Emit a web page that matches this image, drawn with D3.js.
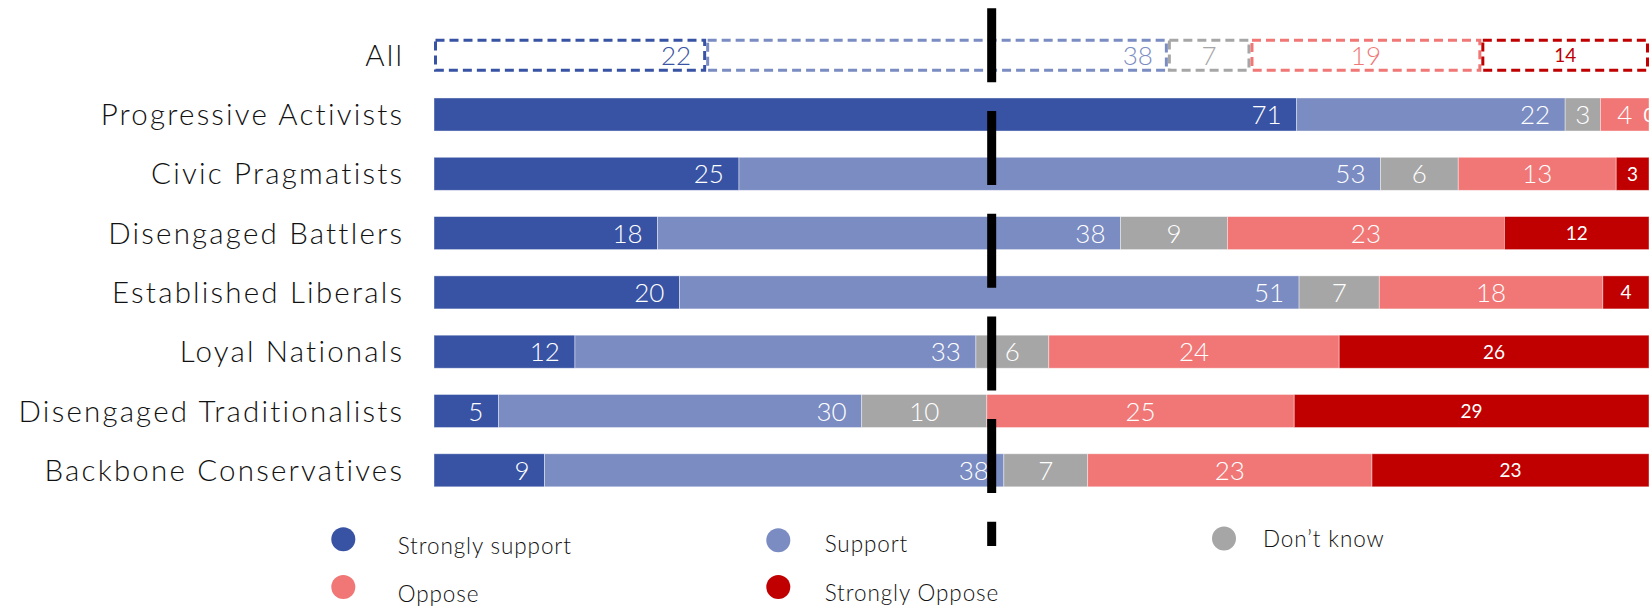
<!DOCTYPE html>
<html>
<head>
<meta charset="utf-8">
<script src="https://cdn.jsdelivr.net/npm/d3@7"></script>
<style>
  html, body { margin: 0; padding: 0; background: #fff; }
  svg { display: block; font-family: "Lato", "Open Sans", sans-serif; font-weight: 300; }
</style>
</head>
<body>
<svg id="chart" width="1649" height="607"></svg>
<script>
// ---- data ----
const categories = ["All", "Progressive Activists", "Civic Pragmatists", "Disengaged Battlers",
  "Established Liberals", "Loyal Nationals", "Disengaged Traditionalists", "Backbone Conservatives"];
const seriesNames = ["Strongly support", "Support", "Don\u2019t know", "Oppose", "Strongly Oppose"];
const stronglySupport = [22.4, 71.0, 25.1, 18.4, 20.2, 11.6, 5.3, 9.1];
const support         = [38.0, 22.1, 52.8, 38.1, 51.0, 33.0, 29.9, 37.8];
const dontKnow        = [6.8, 2.9, 6.4, 8.8, 6.6, 6.0, 10.3, 6.9];
const oppose          = [19.0, 4.0, 13.0, 22.8, 18.4, 23.9, 25.3, 23.4];
const stronglyOppose  = [13.8, 0.0, 2.7, 11.9, 3.8, 25.5, 29.2, 22.8];
const seriesColors = ["#3853a4", "#7a8cc2", "#a6a6a6", "#f07776", "#c00000"];
const referenceValue = 45.9;

// ---- build table ----
const seriesValues = [stronglySupport, support, dontKnow, oppose, stronglyOppose];
const keys = ["ss", "s", "dk", "o", "so"];
const table = categories.map((c, i) => {
  const row = { category: c };
  keys.forEach((k, j) => row[k] = seriesValues[j][i]);
  return row;
});
const stacked = d3.stack().keys(keys)(table);

const svg = d3.select("#chart");
const x = d3.scaleLinear().domain([0, 100]).range([434, 1649]);
const y = d3.scaleBand().domain(categories).range([25.55, 25.55 + 8 * 59.3])
  .paddingInner(0.443).paddingOuter(0.2215);
const bw = y.bandwidth();
const color = d3.scaleOrdinal().domain(keys).range(seriesColors);
const fmt = v => String(Math.round(v));

// ---- category labels ----
const catSpacing = 2.2;
svg.append("g").selectAll("text").data(categories).join("text")
  .attr("x", 402 + catSpacing)
  .attr("y", d => y(d) + bw / 2 + 10.5)
  .attr("text-anchor", "end")
  .attr("font-size", 29.5)
  .attr("letter-spacing", catSpacing)
  .attr("fill", "#111")
  .text(d => d);

// ---- bars ----
const layers = svg.append("g").selectAll("g").data(stacked).join("g");

layers.each(function(layer, li) {
  const g = d3.select(this);
  const key = layer.key;
  const rows = layer.map((d, i) => ({ x0: d[0], x1: d[1], cat: categories[i], idx: i }));
  g.selectAll("rect.solid").data(rows.filter(r => r.idx > 0)).join("rect")
    .attr("class", "solid")
    .attr("x", r => x(r.x0))
    .attr("y", r => y(r.cat))
    .attr("width", r => Math.max(0, x(r.x1) - x(r.x0)))
    .attr("height", bw)
    .attr("fill", color(key))
    .attr("stroke", "rgba(255,255,255,0.5)")
    .attr("stroke-width", 0.8);
  g.selectAll("rect.box").data(rows.filter(r => r.idx === 0)).join("rect")
    .attr("class", "box")
    .attr("x", r => x(r.x0) + 1.5)
    .attr("y", r => y(r.cat) + 1.5)
    .attr("width", r => x(r.x1) - x(r.x0) - 3)
    .attr("height", bw - 3)
    .attr("fill", "#fff")
    .attr("stroke", color(key))
    .attr("stroke-width", 3)
    .attr("stroke-dasharray", "9,5");
});

// ---- value labels ----
layers.each(function(layer, li) {
  const g = d3.select(this);
  const key = layer.key;
  const rows = layer.map((d, i) => ({ x0: d[0], x1: d[1], v: d.data[key], cat: categories[i], idx: i }));
  const small = key === "so";
  g.selectAll("text").data(rows).join("text")
    .attr("x", r => (li < 2) ? x(r.x1) - 15 : (x(r.x0) + x(r.x1)) / 2)
    .attr("y", r => y(r.cat) + bw / 2 + (small ? 7 : 9.5))
    .attr("text-anchor", li < 2 ? "end" : "middle")
    .attr("font-size", small ? 19 : 26)
    .attr("font-weight", small ? 400 : 300)
    .attr("fill", r => r.idx === 0 ? color(key) : "#fff")
    .text(r => fmt(r.v));
});

// ---- reference line ----
svg.append("line")
  .attr("x1", x(referenceValue)).attr("x2", x(referenceValue))
  .attr("y1", 8.3).attr("y2", 546)
  .attr("stroke", "#000")
  .attr("stroke-width", 9)
  .attr("stroke-dasharray", "74,28.7");

// ---- legend ----
const legendCircle = [[343.3, 539.3], [778.3, 540.3], [1224, 538.5], [343.3, 587], [778.3, 587]];
const legendText = [[397.7, 554], [824.7, 552], [1263, 547], [397.7, 602], [824.7, 600.5]];
const lg = svg.append("g");
seriesNames.forEach((name, i) => {
  lg.append("circle")
    .attr("cx", legendCircle[i][0]).attr("cy", legendCircle[i][1])
    .attr("r", 12)
    .attr("fill", seriesColors[i]);
  lg.append("text")
    .attr("x", legendText[i][0]).attr("y", legendText[i][1])
    .attr("font-size", 22.5)
    .attr("letter-spacing", 0.9)
    .attr("fill", "#111")
    .text(name);
});
</script>
</body>
</html>
